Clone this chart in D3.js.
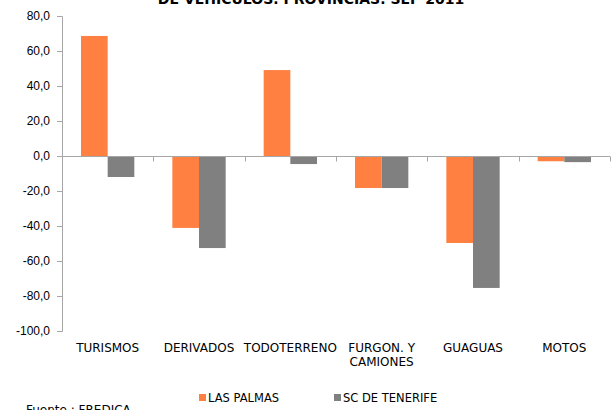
<!DOCTYPE html>
<html>
<head>
<meta charset="utf-8">
<script src="https://cdn.jsdelivr.net/npm/d3@7"></script>
<style>
  body { margin: 0; background: #fff; }
  svg { display: block; font-family: "DejaVu Sans", Verdana, sans-serif; }
</style>
</head>
<body>
<div id="chart"></div>
<script>
// data
var categories = ["TURISMOS", "DERIVADOS", "TODOTERRENO", "FURGON. Y|CAMIONES", "GUAGUAS", "MOTOS"]
var series = ["LAS PALMAS", "SC DE TENERIFE"]
var lasPalmas = [68.6, -41.1, 49.1, -18.3, -49.7, -3.0]
var tenerife = [-12.0, -52.6, -4.6, -18.3, -75.4, -3.5]
var yTicks = [80, 60, 40, 20, 0, -20, -40, -60, -80, -100]
var colors = ["#FF8040", "#808080"]

var W = 611, H = 410
var margin = {top: 16, right: 1, bottom: 79, left: 62}
var width = W - margin.left - margin.right
var height = H - margin.top - margin.bottom

var svg = d3.select("#chart").append("svg")
  .attr("width", W).attr("height", H)

// title, cut at the top in the reference
svg.append("text")
  .attr("x", 311).attr("y", 3.5)
  .attr("text-anchor", "middle")
  .style("font-size", "14px").style("font-weight", "bold")
  .text("DE VEHÍCULOS. PROVINCIAS. SEP 2011")

var g = svg.append("g").attr("transform", "translate(" + margin.left + "," + margin.top + ")")

var x = d3.scaleBand().domain(categories).range([0, width]).paddingInner(0).paddingOuter(0)
var x1 = d3.scaleBand().domain(series).range([19, x.bandwidth() - 19])
var y = d3.scaleLinear().domain([-100, 80]).range([height, 0])

// y axis
var yAxis = g.append("g")
  .call(d3.axisLeft(y).tickValues(yTicks).tickSize(5).tickPadding(7)
    .tickFormat(function(d){ return d3.format(".1f")(d).replace(".", ",").replace("−", "-") }))
yAxis.selectAll("path, line").attr("stroke", "#A6A6A6")
yAxis.selectAll("text").style("font-size", "12px").attr("fill", "#000")
yAxis.select(".domain").attr("d", "M-5,0.5H0.5V" + (height + 0.5) + "H-5")

// bars
var data = []
categories.forEach(function(c, i){
  data.push({cat: c, s: series[0], v: lasPalmas[i], col: colors[0]})
  data.push({cat: c, s: series[1], v: tenerife[i], col: colors[1]})
})
g.selectAll("rect.bar").data(data).enter().append("rect")
  .attr("class", "bar")
  .attr("x", function(d){ return x(d.cat) + x1(d.s) })
  .attr("width", x1.bandwidth())
  .attr("y", function(d){ return y(Math.max(0, d.v)) })
  .attr("height", function(d){ return Math.abs(y(d.v) - y(0)) })
  .attr("fill", function(d){ return d.col })

// x axis on zero line
var zero = Math.round(y(0)) + 0.5
g.append("line").attr("x1", 0).attr("x2", width).attr("y1", zero).attr("y2", zero)
  .attr("stroke", "#A6A6A6")
g.selectAll("line.xtick").data(categories).enter().append("line")
  .attr("class", "xtick")
  .attr("x1", function(d){ return Math.round(x(d) + x.bandwidth()) + 0.5 })
  .attr("x2", function(d){ return Math.round(x(d) + x.bandwidth()) + 0.5 })
  .attr("y1", zero).attr("y2", zero + 5)
  .attr("stroke", "#A6A6A6")

// category labels under the plot
var lab = g.selectAll("text.cat").data(categories).enter().append("text")
  .attr("class", "cat")
  .attr("text-anchor", "middle")
  .style("font-size", "12px")
  .attr("transform", function(d){ return "translate(" + (x(d) + x.bandwidth() / 2) + "," + (height + 21) + ")" })
lab.selectAll("tspan").data(function(d){ return d.split("|") }).enter().append("tspan")
  .attr("x", 0).attr("dy", function(d, i){ return i ? 14 : 0 })
  .text(function(d){ return d })

// legend
var legX = [199, 334]
var leg = svg.selectAll("g.leg").data(series).enter().append("g")
  .attr("class", "leg")
  .attr("transform", function(d, i){ return "translate(" + legX[i] + ",398)" })
leg.append("rect").attr("x", 0).attr("y", -4).attr("width", 7).attr("height", 7)
  .attr("fill", function(d, i){ return colors[i] })
leg.append("text").attr("x", 9).attr("y", 4).style("font-size", "11.5px").text(function(d){ return d })

// source note, cut at the bottom
svg.append("text").attr("x", 26).attr("y", 414)
  .style("font-size", "12px")
  .text("Fuente : FREDICA")
</script>
</body>
</html>
